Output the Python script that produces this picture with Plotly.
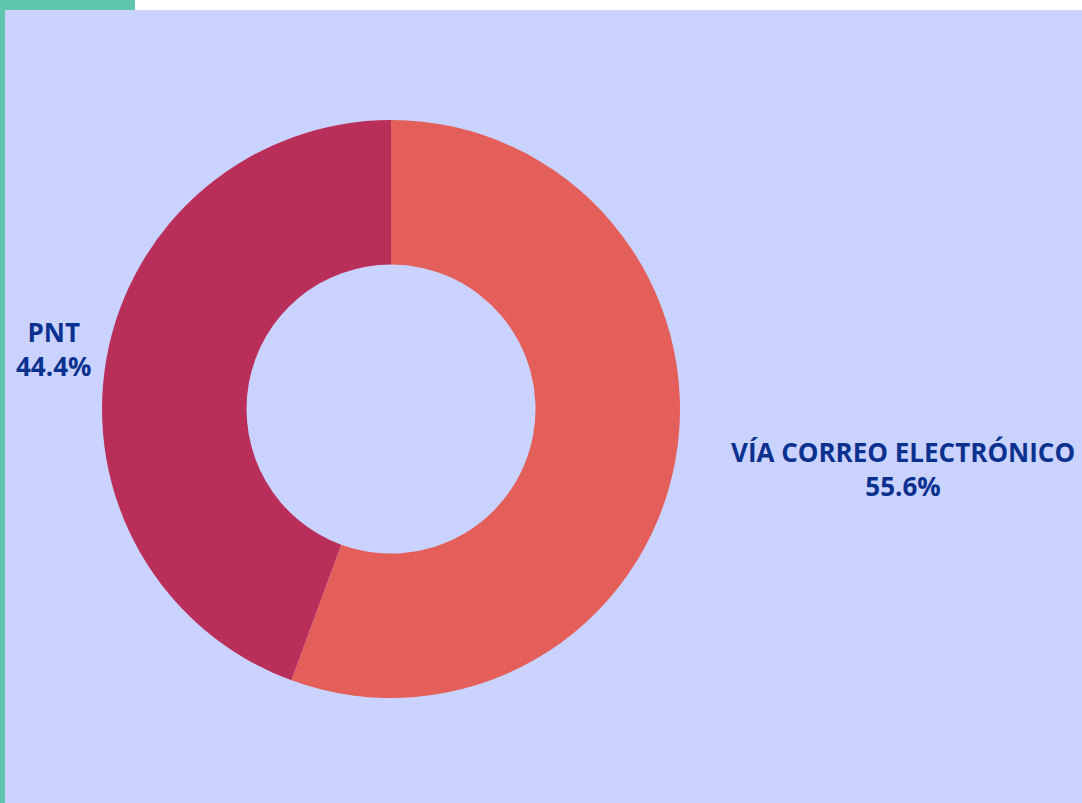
import math
import plotly.graph_objects as go

labels = ["VÍA CORREO ELECTRÓNICO", "PNT"]
values = [55.6, 44.4]
colors = ["#E45F5A", "#BA2F5A"]

W, H = 1082, 803
cx, cy, r = 391, 409, 289
label_offset = 54
text_color = "#0B318F"
font = dict(family="Open Sans", size=26, color=text_color, weight="bold")

fig = go.Figure(go.Pie(
    labels=labels,
    values=values,
    hole=0.5,
    sort=False,
    direction="clockwise",
    rotation=0,
    marker=dict(colors=colors, line=dict(width=0)),
    textinfo="none",
    hoverinfo="label+percent",
    showlegend=False,
    domain=dict(x=[(cx - r) / W, (cx + r) / W],
                y=[(H - cy - r) / H, (H - cy + r) / H]),
))

# outside labels placed along each slice's mid-angle (derived from the values)
total = sum(values)
annotations = []
start = 0.0
for lab, val in zip(labels, values):
    frac = val / total
    mid = (start + frac / 2) * 2 * math.pi
    start += frac
    dx, dy = math.sin(mid), -math.cos(mid)
    px = cx + dx * (r + label_offset)
    py = cy + dy * (r + label_offset)
    annotations.append(dict(
        x=px / W, y=1 - py / H, xref="paper", yref="paper",
        text=f"{lab}<br>{frac * 100:.1f}%",
        showarrow=False, font=font, align="center",
        xanchor="left" if dx > 0 else "center", yanchor="middle",
    ))

fig.update_layout(
    width=W, height=H,
    margin=dict(l=0, r=0, t=0, b=0),
    paper_bgcolor="white",
    plot_bgcolor="white",
    annotations=annotations,
    shapes=[
        dict(type="rect", xref="paper", yref="paper", x0=0, x1=135 / W, y0=1 - 10 / H, y1=1,
             fillcolor="#5FC5AD", line=dict(width=0), layer="below"),
        dict(type="rect", xref="paper", yref="paper", x0=0, x1=5 / W, y0=0, y1=1,
             fillcolor="#5FC5AD", line=dict(width=0), layer="below"),
        dict(type="rect", xref="paper", yref="paper", x0=5 / W, x1=1, y0=0, y1=1 - 10 / H,
             fillcolor="#CAD2FF", line=dict(width=0), layer="below"),
    ],
)

fig.write_html("out.html", config={"displayModeBar": False},
               post_script="document.body.style.margin='0';")
